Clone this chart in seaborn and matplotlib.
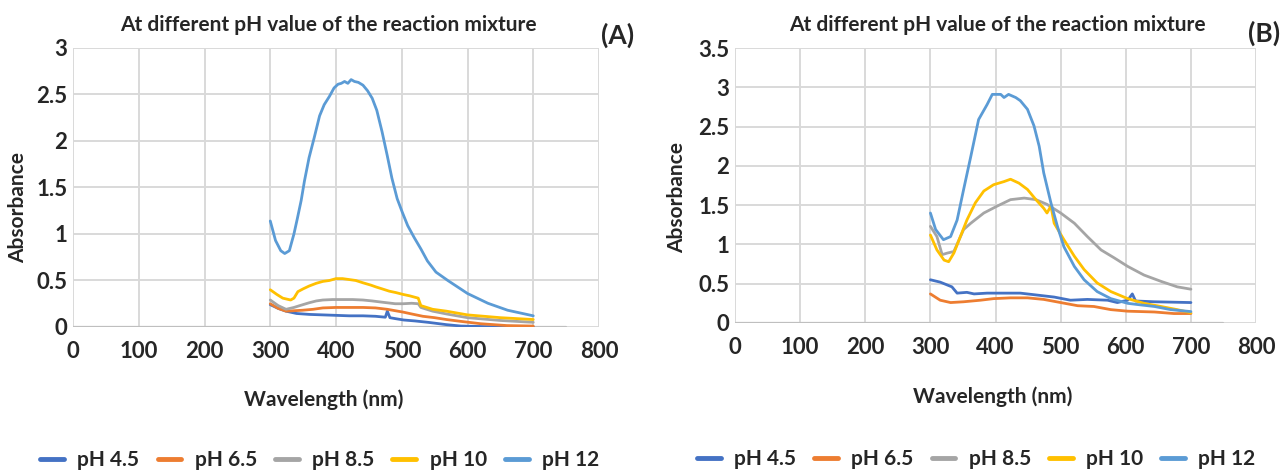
import matplotlib
matplotlib.use("Agg")
import matplotlib.pyplot as plt
import seaborn as sns

# series names and colours (Excel office palette)
labels = ["pH 4.5", "pH 6.5", "pH 8.5", "pH 10", "pH 12"]
colors = ["#4472C4", "#ED7D31", "#A5A5A5", "#FFC000", "#5B9BD5"]

# ---- panel A ----
a_wl_45 = [300, 312, 324, 340, 360, 380, 400, 420, 441, 460, 475, 478, 482, 490, 503, 520, 540, 568, 590, 620, 660, 700]
a_ab_45 = [0.24, 0.2, 0.17, 0.145, 0.135, 0.13, 0.125, 0.12, 0.12, 0.115, 0.105, 0.17, 0.1, 0.09, 0.075, 0.065, 0.05, 0.025, 0.01, 0.005, 0.0, 0.0]
a_wl_65 = [300, 312, 324, 349, 365, 380, 400, 420, 441, 460, 478, 490, 502, 515, 532, 550, 568, 590, 620, 660, 700]
a_ab_65 = [0.25, 0.2, 0.17, 0.18, 0.19, 0.205, 0.21, 0.21, 0.21, 0.205, 0.19, 0.175, 0.16, 0.14, 0.115, 0.1, 0.08, 0.06, 0.035, 0.015, 0.01]
a_wl_85 = [300, 312, 324, 336, 345, 359, 370, 380, 395, 410, 425, 441, 455, 472, 490, 502, 515, 525, 529, 547, 568, 600, 650, 700]
a_ab_85 = [0.29, 0.23, 0.19, 0.21, 0.23, 0.26, 0.28, 0.29, 0.295, 0.295, 0.295, 0.29, 0.28, 0.265, 0.25, 0.25, 0.255, 0.25, 0.21, 0.17, 0.14, 0.1, 0.07, 0.05]
a_wl_10 = [300, 310, 319, 331, 336, 342, 350, 359, 370, 380, 390, 400, 410, 420, 430, 441, 453, 461, 470, 481, 491, 502, 512, 525, 529, 547, 568, 600, 650, 700]
a_ab_10 = [0.40, 0.35, 0.31, 0.29, 0.31, 0.38, 0.41, 0.44, 0.47, 0.49, 0.5, 0.52, 0.52, 0.51, 0.5, 0.475, 0.45, 0.43, 0.41, 0.385, 0.37, 0.35, 0.335, 0.31, 0.23, 0.19, 0.17, 0.13, 0.10, 0.08]
a_wl_12 = [300, 308, 316, 322, 329, 336, 341, 347, 352, 359, 367, 375, 382, 390, 397, 403, 408, 413, 418, 423, 428, 434, 441, 448, 455, 462, 470, 478, 485, 493, 501, 509, 519, 529, 539, 552, 570, 600, 631, 661, 700]
a_ab_12 = [1.14, 0.93, 0.82, 0.79, 0.82, 1.0, 1.16, 1.36, 1.57, 1.82, 2.04, 2.27, 2.39, 2.48, 2.57, 2.61, 2.62, 2.64, 2.62, 2.66, 2.64, 2.63, 2.6, 2.54, 2.46, 2.33, 2.1, 1.84, 1.6, 1.38, 1.23, 1.09, 0.96, 0.84, 0.71, 0.59, 0.5, 0.36, 0.255, 0.18, 0.12]

# ---- panel B ----
b_wl_45 = [300, 315, 333, 341, 356, 367, 387, 413, 438, 459, 490, 515, 541, 572, 587, 603, 610, 615, 644, 700]
b_ab_45 = [0.55, 0.52, 0.46, 0.38, 0.39, 0.37, 0.38, 0.38, 0.38, 0.36, 0.33, 0.29, 0.30, 0.29, 0.26, 0.29, 0.37, 0.28, 0.27, 0.26]
b_wl_65 = [300, 315, 331, 351, 377, 397, 423, 449, 474, 500, 526, 551, 577, 603, 644, 674, 700]
b_ab_65 = [0.37, 0.29, 0.26, 0.27, 0.29, 0.31, 0.32, 0.32, 0.30, 0.26, 0.22, 0.21, 0.17, 0.15, 0.14, 0.12, 0.12]
b_wl_85 = [300, 310, 318, 326, 336, 351, 362, 382, 403, 423, 444, 462, 479, 500, 521, 541, 562, 582, 603, 628, 654, 679, 700]
b_ab_85 = [1.23, 1.10, 0.87, 0.89, 0.91, 1.19, 1.27, 1.40, 1.49, 1.57, 1.59, 1.57, 1.51, 1.40, 1.27, 1.10, 0.93, 0.83, 0.72, 0.61, 0.53, 0.46, 0.43]
b_wl_10 = [300, 310, 321, 328, 336, 346, 356, 369, 382, 397, 413, 423, 436, 449, 462, 474, 479, 485, 490, 505, 521, 536, 556, 577, 603, 628, 654, 679, 700]
b_ab_10 = [1.12, 0.93, 0.80, 0.78, 0.89, 1.10, 1.31, 1.53, 1.68, 1.76, 1.80, 1.83, 1.78, 1.70, 1.57, 1.46, 1.40, 1.49, 1.27, 1.06, 0.85, 0.68, 0.51, 0.40, 0.31, 0.25, 0.21, 0.17, 0.13]
b_wl_12 = [300, 308, 320, 331, 341, 351, 362, 374, 387, 395, 408, 413, 420, 431, 438, 449, 459, 467, 474, 485, 495, 505, 521, 536, 556, 577, 603, 623, 644, 669, 700]
b_ab_12 = [1.40, 1.19, 1.06, 1.10, 1.31, 1.70, 2.12, 2.59, 2.78, 2.91, 2.91, 2.87, 2.91, 2.87, 2.83, 2.72, 2.51, 2.25, 1.91, 1.53, 1.23, 0.97, 0.72, 0.55, 0.40, 0.31, 0.25, 0.23, 0.21, 0.17, 0.145]

x_ticks = [0, 100, 200, 300, 400, 500, 600, 700, 800]
a_y_ticks = [0, 0.5, 1, 1.5, 2, 2.5, 3]
b_y_ticks = [0, 0.5, 1, 1.5, 2, 2.5, 3, 3.5]
title = "At different pH value of the reaction mixture"

sns.set_style("white")
plt.rcParams['font.family'] = ['Lato', 'DejaVu Sans']
plt.rcParams['font.weight'] = 'bold'

fig = plt.figure(figsize=(12.83, 4.70), dpi=100)
axA = fig.add_axes([0.0569, 0.3043, 0.41, 0.5936])
axB = fig.add_axes([0.5729, 0.3128, 0.4061, 0.585])

panels = [
    (axA, [a_wl_45, a_wl_65, a_wl_85, a_wl_10, a_wl_12], [a_ab_45, a_ab_65, a_ab_85, a_ab_10, a_ab_12],
     a_y_ticks, "(A)", dict(title=(0.485, 1.082), tag=(1.036, 1.047), xl=(0.477, -0.262), yl=(-0.105, 0.43), leg=(0.469, -0.477))),
    (axB, [b_wl_45, b_wl_65, b_wl_85, b_wl_10, b_wl_12], [b_ab_45, b_ab_65, b_ab_85, b_ab_10, b_ab_12],
     b_y_ticks, "(B)", dict(title=(0.503, 1.084), tag=(1.015, 1.055), xl=(0.495, -0.269), yl=(-0.111, 0.458), leg=(0.463, -0.4945))),
]

for ax, wls, abss, yt, tag, pos in panels:
    for wl, ab, lab, col in zip(wls, abss, labels, colors):
        sns.lineplot(x=wl, y=ab, ax=ax, color=col, lw=2.0, label=lab)
    ax.set_xlim(0, 800)
    ax.set_ylim(0, yt[-1])
    ax.set_xticks(x_ticks)
    ax.set_yticks(yt)
    ax.set_xticklabels([str(t) for t in x_ticks])
    ax.set_yticklabels(["%g" % t for t in yt])
    ax.grid(True, color="#d9d9d9", lw=1.4)
    ax.set_axisbelow(True)
    for s in ax.spines.values():
        s.set_visible(False)
    ax.axhline(0, xmin=0, xmax=750 / 800, color="#bfbfbf", lw=1.6, zorder=1)
    ax.tick_params(axis='x', length=0, pad=10, labelsize=16)
    ax.tick_params(axis='y', length=0, pad=4, labelsize=16)
    ax.text(*pos['title'], title, transform=ax.transAxes, ha='center', va='center',
            fontsize=15, fontweight='bold')
    ax.text(*pos['tag'], tag, transform=ax.transAxes, ha='center', va='center',
            fontsize=19, fontweight='bold')
    ax.set_xlabel("Wavelength (nm)", fontsize=15, fontweight='bold', va='center')
    ax.xaxis.set_label_coords(*pos['xl'])
    ax.set_ylabel("Absorbance", fontsize=15, fontweight='bold', va='center')
    ax.yaxis.set_label_coords(*pos['yl'])
    ax.legend(loc='center', bbox_to_anchor=pos['leg'], ncol=5, frameon=False,
              handlelength=1.15, handletextpad=0.63, columnspacing=0.87,
              prop={'weight': 'bold', 'size': 15})
    for line in ax.get_legend().get_lines():
        line.set_linewidth(3.5)

fig.savefig("out.png", dpi=100)
